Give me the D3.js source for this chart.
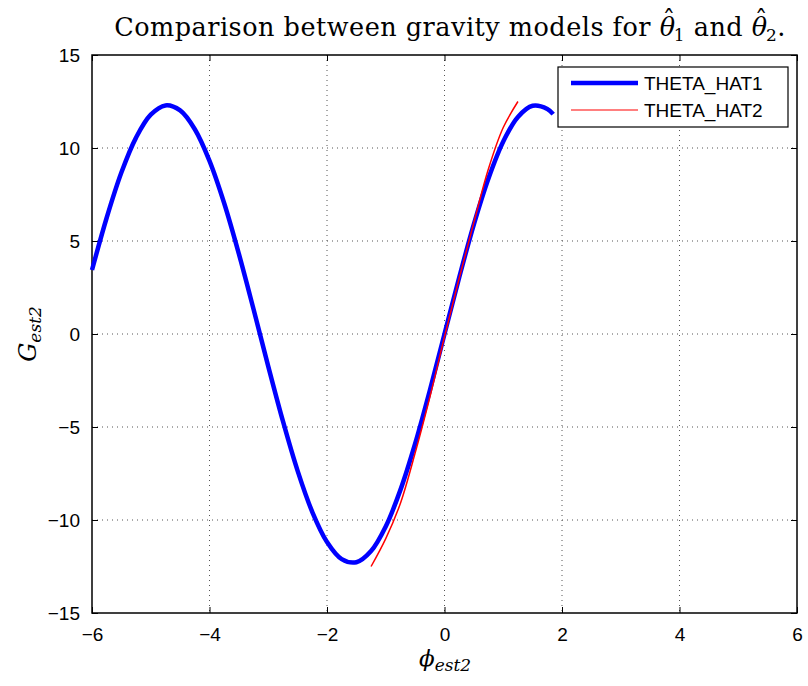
<!DOCTYPE html>
<html lang="en">
<head>
<meta charset="UTF-8">
<title>Gravity models</title>
<style>
body { margin: 0; background: #fff; }
svg { display: block; }
.grid line { stroke: #555; stroke-dasharray: 1, 4; stroke-width: 1px; }
</style>
</head>
<body>
<svg id="main" width="808" height="686"></svg>
<script src="https://cdn.jsdelivr.net/npm/d3@7/dist/d3.min.js"></script>
<script>
// values
var hat1X = [-6, -5.75, -5.5, -5.25, -5, -4.75, -4.5, -4.25, -4, -3.75, -3.5, -3.25, -3, -2.75, -2.5, -2.25, -2, -1.75, -1.5, -1.25, -1, -0.75, -0.5, -0.25, 0, 0.25, 0.5, 0.75, 1, 1.25, 1.5, 1.75, 1.85];
var hat1Y = [3.44, 6.25, 8.68, 10.56, 11.79, 12.29, 12.02, 11.01, 9.31, 7.03, 4.31, 1.33, -1.74, -4.69, -7.36, -9.57, -11.18, -12.10, -12.27, -11.67, -10.35, -8.38, -5.90, -3.04, 0, 3.04, 5.90, 8.38, 10.35, 11.67, 12.27, 12.10, 11.82];
var hat2X = [-1.25, -1, -0.75, -0.5, -0.25, 0, 0.25, 0.5, 0.75, 1, 1.25];
var hat2Y = [-12.5, -11.0, -9.1, -6.4, -3.4, -0.15, 3.0, 6.0, 8.9, 11.1, 12.5];
var xTicks = [-6, -4, -2, 0, 2, 4, 6];
var yTicks = [-15, -10, -5, 0, 5, 10, 15];
var seriesNames = ["THETA_HAT1", "THETA_HAT2"];

var svg = d3.select("#main");
var pLeft = 92, pRight = 797, pTop = 55, pBottom = 613;

var x = d3.scaleLinear().domain([-6, 6]).range([pLeft, pRight]);
var y = d3.scaleLinear().domain([-15, 15]).range([pBottom, pTop]);

// grid
var grid = svg.append("g").attr("class", "grid");
grid.selectAll(".gx").data(xTicks.slice(1, -1)).enter().append("line")
    .attr("x1", d => x(d)).attr("x2", d => x(d))
    .attr("y1", pTop).attr("y2", pBottom);
grid.selectAll(".gy").data(yTicks.slice(1, -1)).enter().append("line")
    .attr("x1", pLeft).attr("x2", pRight)
    .attr("y1", d => y(d)).attr("y2", d => y(d));

var fmt = d => d < 0 ? "\u2212" + Math.abs(d) : "" + d;

// axes, ticks pointing inward
var xa = svg.append("g").attr("transform", "translate(0," + pBottom + ")")
    .call(d3.axisBottom(x).tickValues(xTicks).tickFormat(fmt).tickSizeInner(-6).tickSizeOuter(0).tickPadding(15));
var ya = svg.append("g").attr("transform", "translate(" + pLeft + ",0)")
    .call(d3.axisLeft(y).tickValues(yTicks).tickFormat(fmt).tickSizeInner(-6).tickSizeOuter(0).tickPadding(12));
svg.append("g").attr("transform", "translate(0," + pTop + ")")
    .call(d3.axisTop(x).tickValues(xTicks).tickFormat("").tickSizeInner(-6).tickSizeOuter(0));
svg.append("g").attr("transform", "translate(" + pRight + ",0)")
    .call(d3.axisRight(y).tickValues(yTicks).tickFormat("").tickSizeInner(-6).tickSizeOuter(0));
svg.selectAll(".domain").remove();
svg.selectAll(".tick line").attr("stroke", "#000");
svg.selectAll(".tick text")
    .attr("fill", "#000")
    .style("font-family", "'Liberation Sans', Arial, sans-serif")
    .style("font-size", "19px");

svg.append("rect").attr("x", pLeft).attr("y", pTop)
    .attr("width", pRight - pLeft).attr("height", pBottom - pTop)
    .attr("fill", "none").attr("stroke", "#000").attr("stroke-width", 1.5);

// curves
var line = d3.line().x(d => x(d[0])).y(d => y(d[1])).curve(d3.curveCatmullRom);
svg.append("path").datum(d3.zip(hat1X, hat1Y)).attr("d", line)
    .attr("fill", "none").attr("stroke", "#0000ff").attr("stroke-width", 4.5);
svg.append("path").datum(d3.zip(hat2X, hat2Y)).attr("d", line)
    .attr("fill", "none").attr("stroke", "#ff0000").attr("stroke-width", 1.5);

// legend
var lg = svg.append("g").attr("transform", "translate(558,67)");
lg.append("rect").attr("width", 230).attr("height", 60)
    .attr("fill", "#fff").attr("stroke", "#000").attr("stroke-width", 1.2);
var colors = ["#0000ff", "#ff0000"], widths = [4.5, 1.2];
seriesNames.forEach(function(n, i) {
    var yy = 16 + i * 27;
    lg.append("line").attr("x1", 13).attr("x2", 80).attr("y1", yy).attr("y2", yy)
        .attr("stroke", colors[i]).attr("stroke-width", widths[i]);
    lg.append("text").attr("x", 86).attr("y", yy).attr("dy", "0.36em")
        .style("font-family", "'Liberation Sans', Arial, sans-serif").style("font-size", "19px")
        .text(n);
});

// title and labels
var title = svg.append("text").attr("x", 450).attr("y", 36).attr("text-anchor", "middle")
    .style("font-family", "'DejaVu Serif', serif").style("font-size", "25.5px").style("letter-spacing", "0.5px");
title.append("tspan").text("Comparison between gravity models for ");
title.append("tspan").style("font-style", "italic").text("\u03b8");
title.append("tspan").attr("dx", -13).attr("dy", -7).text("\u02c6");
title.append("tspan").attr("dx", -2).attr("dy", 12).style("font-size", "17px").text("1");
title.append("tspan").attr("dy", -5).text(" and ");
title.append("tspan").style("font-style", "italic").text("\u03b8");
title.append("tspan").attr("dx", -13).attr("dy", -7).text("\u02c6");
title.append("tspan").attr("dx", -2).attr("dy", 12).style("font-size", "17px").text("2");
title.append("tspan").attr("dy", -5).text(".");

var xl = svg.append("text").attr("x", 445).attr("y", 666).attr("text-anchor", "middle")
    .style("font-family", "'DejaVu Serif', serif").style("font-style", "italic").style("font-size", "23px");
xl.append("tspan").text("\u03d5");
xl.append("tspan").attr("dy", 5).style("font-size", "17px").text("est2");

var yl = svg.append("text").attr("transform", "translate(36,334) rotate(-90)").attr("text-anchor", "middle")
    .style("font-family", "'DejaVu Serif', serif").style("font-style", "italic").style("font-size", "24px");
yl.append("tspan").text("G");
yl.append("tspan").attr("dy", 5).style("font-size", "17px").text("est2");
</script>
</body>
</html>
